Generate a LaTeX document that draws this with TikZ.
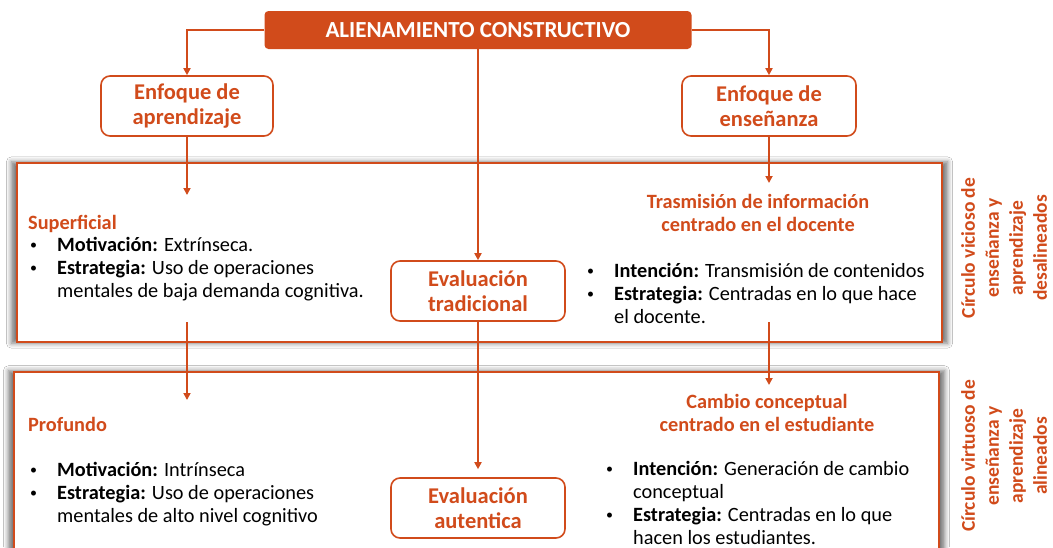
\documentclass[tikz,border=0pt]{standalone}
\usepackage{fontspec}
\setmainfont{Carlito}
\usetikzlibrary{arrows.meta,shadows.blur}
\definecolor{naranja}{RGB}{209,75,27}
\newcommand{\vi}{\makebox[28pt][l]{\hspace{1pt}\raisebox{2pt}{\fontsize{14}{14}\selectfont\textbullet}}}
\newcommand{\sg}{\hspace*{28pt}}

\begin{document}
\begin{tikzpicture}[>={Triangle[length=7pt,width=7pt]}, x=1pt, y=-1pt,
	caja/.style={draw=naranja, line width=1.6pt, rounded corners=9pt, fill=white, text=naranja, font=\fontsize{22.5}{25}\selectfont\bfseries, align=center, minimum height=60pt},
	marco/.style={draw=naranja, line width=1.6pt, fill=white, blur shadow={shadow xshift=0pt, shadow yshift=0pt, shadow scale=1.012, shadow blur radius=5pt, shadow opacity=55}},
	flecha/.style={->, draw=naranja, line width=1.7pt},
	lista/.style={anchor=base west, align=left, inner sep=0pt, font=\fontsize{20.3}{23}\selectfont},
	titulo/.style={text=naranja, inner sep=0pt, font=\fontsize{20.3}{22.5}\selectfont\bfseries, align=center},
	lado/.style={rotate=90, text=naranja, inner sep=0pt, font=\fontsize{19.5}{24}\selectfont\bfseries, align=center}]
	\useasboundingbox (0,0) rectangle (1053,547);
	\fill[white] (0,0) rectangle (1053,547);
	\draw[marco] (17,163) rectangle (942,342);
	\draw[marco] (14,372) rectangle (939,580);
	\node[fill=naranja, rounded corners=4pt, minimum width=427pt, minimum height=38pt, text=white, font=\fontsize{23}{26}\selectfont\bfseries] (tit) at (478,30) {ALIENAMIENTO CONSTRUCTIVO};
	\node[caja, minimum width=172pt] (apr) at (187,106) {Enfoque de\\aprendizaje};
	\node[caja, minimum width=174pt] (ens) at (769,106) {Enfoque de\\enseñanza};
	\node[caja, minimum width=174pt] (tra) at (478,291) {Evaluación\\tradicional};
	\node[caja, minimum width=174pt] (aut) at (478,508) {Evaluación\\autentica};
	\coordinate (sup-in) at (187,195);
	\coordinate (sup-out) at (187,322);
	\coordinate (pro-in) at (187,400);
	\coordinate (tras-in) at (769,183);
	\coordinate (tras-out) at (769,322);
	\coordinate (cam-in) at (769,385);
	\draw[flecha] (tit.west) -| (apr.north);
	\draw[flecha] (tit.east) -| (ens.north);
	\draw[flecha] (tit.south) -- (tra.north);
	\draw[flecha, shorten >=8pt] (tra.south) -- (aut.north);
	\draw[flecha] (apr.south) -- (sup-in);
	\draw[flecha] (ens.south) -- (tras-in);
	\draw[flecha] (sup-out) -- (pro-in);
	\draw[flecha] (tras-out) -- (cam-in);
	\node[titulo, anchor=base west] (sup) at (28,229) {Superficial};
	\node[lista] (sup-l) at (29,297) {\vi\textbf{Motivación:} Extrínseca.\\\vi\textbf{Estrategia:} Uso de operaciones\\\sg mentales de baja demanda cognitiva.};
	\node[titulo, anchor=base west] (pro) at (28,431) {Profundo};
	\node[lista] (pro-l) at (29,522) {\vi\textbf{Motivación:} Intrínseca\\\vi\textbf{Estrategia:} Uso de operaciones\\\sg mentales de alto nivel cognitivo};
	\node[titulo, anchor=base] (tras) at (758,231) {Trasmisión de información\\centrado en el docente};
	\node[lista] (tras-l) at (586,323) {\vi\textbf{Intención:} Transmisión de contenidos\\\vi\textbf{Estrategia:} Centradas en lo que hace\\\sg el docente.};
	\node[titulo, anchor=base] (cam) at (767,431) {Cambio conceptual\\centrado en el estudiante};
	\node[lista] (cam-l) at (605,544) {\vi\textbf{Intención:} Generación de cambio\\\sg conceptual\\\vi\textbf{Estrategia:} Centradas en lo que\\\sg hacen los estudiantes.};
	\node[lado] (vic) at (1004,248) {Círculo vicioso de\\enseñanza y\\aprendizaje\\desalineados};
	\node[lado] (vir) at (1004,456) {Círculo virtuoso de\\enseñanza y\\aprendizaje\\alineados};
\end{tikzpicture}
\end{document}
